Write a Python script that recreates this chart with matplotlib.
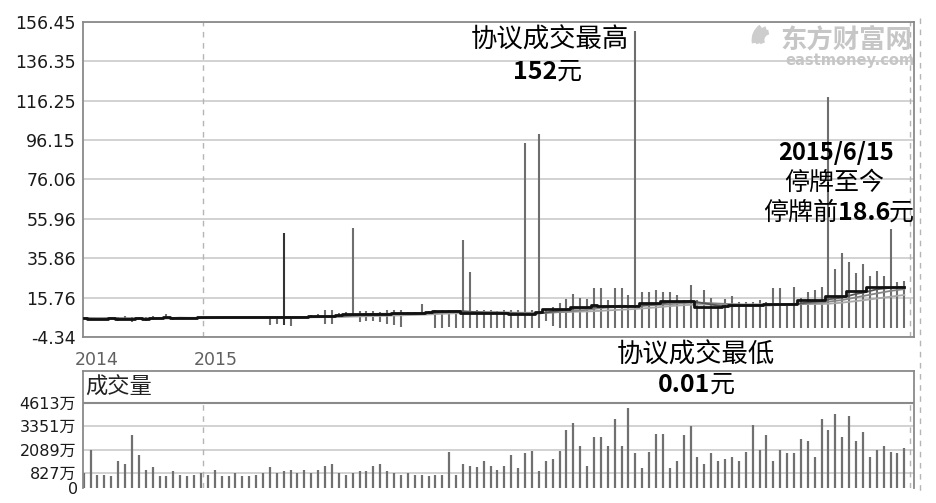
import numpy as np
import pandas as pd
import matplotlib
matplotlib.use("Agg")
import matplotlib.pyplot as plt
from matplotlib.patches import Arc
from matplotlib.lines import Line2D

plt.rcParams['font.family'] = ['DejaVu Sans', 'Noto Sans CJK SC']

# -----------------------------
# Data
# -----------------------------
# closing level (thick black step line), one value per trading period
close = [5.2, 5.0, 5.0, 5.1, 5.4, 4.9, 5.0, 4.8, 5.2, 4.9, 5.6, 5.5, 5.7, 5.3, 5.4, 5.3, 5.5,
         5.7, 5.7, 5.7, 5.7, 5.7, 5.7, 5.7, 5.7, 5.7, 5.7, 5.7, 5.7, 5.7, 5.7,
         5.8, 6.0, 6.3, 6.3, 6.3, 6.3, 6.8, 7.2, 7.5, 7.5, 7.5, 7.5, 7.5, 7.5,
         7.8, 7.8, 7.8, 7.8, 8.0, 8.5, 9.1, 9.1, 9.1, 9.1, 7.8, 7.8, 7.8, 7.8,
         7.8, 7.8, 7.8, 7.5, 7.5, 7.5, 7.5, 8.5, 9.9, 9.9, 9.9, 9.9, 10.8, 10.8,
         11.0, 12.0, 11.5, 11.5, 11.5, 11.5, 11.5, 11.5, 12.9, 12.9, 12.9,
         14.0, 14.0, 14.0, 14.0, 14.0, 11.1, 11.1, 11.1, 11.1, 11.5,
         12.0, 12.0, 12.0, 12.0, 12.0, 12.5, 12.5, 12.5, 12.5, 12.5,
         14.5, 14.5, 14.5, 14.5, 16.6, 16.6, 16.6, 19.3, 19.3, 19.3,
         21.1, 21.1, 21.1, 21.1, 21.1, 21.1]

high = [5.8, 5.4, 5.5, 5.6, 5.9, 5.8, 6.2, 5.7, 6.0, 5.8, 6.6, 6.0, 7.2, 6.0, 6.0, 5.8, 6.0,
        np.nan, np.nan, np.nan, np.nan, np.nan, np.nan, np.nan, np.nan, np.nan, np.nan,
        5.7, 5.7, 48.7, 5.7,
        6.3, 6.6, 7.0, 7.2, 9.4, 9.4, 8.0, 8.3, 51.4, 9.0, 8.8, 8.8, 8.6, 9.6,
        9.6, 9.2, 8.6, 8.6, 12.5, 9.0, 9.4, 9.4, 9.4, 9.4, 45.2, 28.8, 9.4, 9.4,
        9.4, 9.0, 9.4, 9.4, 9.4, 94.7, 9.4, 99.3, 9.9, 11.0, 12.9, 15.0, 17.5, 15.8,
        15.0, 20.5, 20.5, 14.5, 20.5, 20.5, 17.1, 152.0, 18.8, 18.8, 19.65,
        18.8, 18.8, 17.1, 14.5, 22.2, 14.5, 19.65, 15.4, 10.3, 14.9,
        16.6, 13.7, 13.7, 13.7, 14.5, 13.7, 20.5, 20.5, 12.9, 21.3,
        15.4, 18.8, 19.65, 21.3, 118.3, 30.2, 38.7, 34.1, 28.5, 32.9,
        26.8, 29.5, 26.8, 50.8, 23.9, 24.2]

low = [4.6, 4.5, 4.4, 4.6, 4.8, 3.6, 4.2, 3.5, 4.3, 3.8, 4.5, 4.6, 4.8, 4.5, 4.6, 4.6, 4.7,
       np.nan, np.nan, np.nan, np.nan, np.nan, np.nan, np.nan, np.nan, np.nan, np.nan,
       1.8, 2.2, 1.9, 1.2,
       5.5, 5.6, 5.8, 5.2, 2.3, 2.3, 6.0, 6.5, 6.5, 3.5, 3.8, 3.8, 3.5, 2.5,
       1.6, 1.0, 7.0, 7.2, 7.4, 7.8, 0.01, 0.5, 1.0, 0.01, 0.01, 0.01, 0.01, 0.01,
       0.01, 0.01, 0.01, 0.01, 0.01, 0.01, 0.01, 0.01, 4.0, 1.5, 0.01, 0.01, 0.01, 0.01,
       0.01, 0.01] + [0.01] * 45

# volume in 万 shares
volume = [814, 2080, 724, 724, 633, 1483, 1302, 2858, 1791, 995, 1122, 633, 633, 905, 724, 633,
          724, 814, 724, 995, 633, 633, 814, 633, 633, 724, 814, 1122, 814, 905, 995, 814,
          995, 814, 995, 1212, 1302, 814, 724, 814, 905, 905, 1212, 1302, 905, 814, 724,
          814, 724, 724, 633, 724, 724, 1954, 724, 1302, 1212, 1122, 1483, 1212, 995, 1212, 1809,
          1085, 1900, 1990, 905, 1483, 1592, 1990, 3166, 3528, 2261, 1212, 2750, 2750, 2261,
          3745, 2261, 4342, 1881, 1085, 1972, 2949, 2949, 1085, 1483, 2858, 3347, 1682, 1302,
          1881, 1483, 1592,
          1682, 1483, 1972, 3437, 2080, 2858, 1483, 2080, 1881, 1881, 2677, 2569, 1682, 3745,
          3166, 4016, 2750, 3925, 2569, 3039, 1682, 2080, 2261, 1972, 1881, 2171]

price_ticks = [-4.34, 15.76, 35.86, 55.96, 76.06, 96.15, 116.25, 136.35, 156.45]
vol_ticks = [0, 827, 2089, 3351, 4613]
year_labels = ['2014', '2015']
year_pos = [0, 17.3]

n = len(close)
x = np.arange(n)
close_s = pd.Series(close)
ma5 = close_s.rolling(5, min_periods=1).mean()
ma10 = close_s.rolling(10, min_periods=1).mean()
ma20 = close_s.rolling(20, min_periods=1).mean()

W, H = 936, 503
fig = plt.figure(figsize=(W / 100, H / 100), dpi=100)

def fx(px):
    return px / W

def fy(py):
    return 1 - py / H

# ---------------
# Price panel
# ---------------
ax = fig.add_axes([fx(83), fy(337), fx(914 - 83), (337 - 22) / H])
ax.set_xlim(-0.1, 120.4)
ax.set_ylim(-4.34, 156.45)
ax.set_yticks(price_ticks)
ax.set_yticklabels([f"{t:.2f}" for t in price_ticks], fontsize=12.5, color='#1a1a1a')
ax.set_xticks([])
ax.tick_params(axis='y', length=0, pad=5)
ax.grid(axis='y', color='#cfcfcf', lw=1.3)
ax.set_axisbelow(True)
for sp in ax.spines.values():
    sp.set_color('#8a8a8a')
    sp.set_linewidth(1.3)
ax.axvline(year_pos[1], color='#b5b5b5', lw=1, ls=(0, (4, 4)), zorder=1)
ax.axvline(119.8, color='#b5b5b5', lw=1, ls=(0, (4, 4)), zorder=1)

hi = np.array(high)
lo = np.array(low)
ok = ~np.isnan(hi)
wcol = np.where(x[ok] == 29, '#333333', '#6e6e6e')
ax.vlines(x[ok], lo[ok], hi[ok], colors=wcol, lw=1.5, zorder=2)

ax.plot(x, ma20, color='#a8a8a8', lw=1.3, zorder=3)
ax.plot(x, ma10, color='#858585', lw=1.3, zorder=3)
ax.plot(x, ma5, color='#555555', lw=1.3, zorder=3)
ax.plot(x, close, color='#111111', lw=2.0, drawstyle='steps-mid', zorder=4)

for lab, pos in zip(year_labels, year_pos):
    ax.text(pos - 1.3, -0.045, lab, transform=ax.get_xaxis_transform(),
            ha='left', va='top', fontsize=12.5, color='#606060')

# watermark
for r, t1, t2 in [(16, 110, 200), (12, 100, 210), (8, 95, 220)]:
    fig.add_artist(Arc((fx(770), fy(40)), fx(2 * r), 2 * r / H, theta1=t1, theta2=t2,
                       color='#cdcdcd', lw=3.5, transform=fig.transFigure))
fig.text(fx(846), fy(40), '东方财富网', family='Noto Sans CJK SC', fontsize=19,
         weight='bold', color='#c6c6c6', ha='center', va='center')
fig.text(fx(850), fy(60), 'eastmoney.com', fontsize=10.5, weight='bold',
         color='#c6c6c6', ha='center', va='center')

# outer dashed guide at the right edge
fig.add_artist(Line2D([fx(920), fx(920)], [fy(18), fy(495)], color='#b5b5b5', lw=1,
                      ls=(0, (4, 4)), transform=fig.transFigure))

# ---------------
# Volume panel
# ---------------
axv = fig.add_axes([fx(83), fy(488), fx(914 - 83), (488 - 371) / H])
vtop = 4613 * (488 - 371) / (488 - 403)
axv.set_xlim(-0.1, 120.4)
axv.set_ylim(0, vtop)
axv.set_yticks(vol_ticks[1:])
axv.set_yticklabels([f"{v}万" for v in vol_ticks[1:]], fontsize=11.5, color='#1a1a1a')
axv.set_xticks([])
axv.tick_params(axis='y', length=0, pad=5)
axv.annotate(str(vol_ticks[0]), xy=(0, 0), xycoords='axes fraction', xytext=(-5, -2),
             textcoords='offset pixels', ha='right', va='center', fontsize=11.5,
             color='#1a1a1a')
for v in vol_ticks[1:-1]:
    axv.axhline(v, color='#cfcfcf', lw=1.3, zorder=1)
axv.axhline(vol_ticks[-1], color='#8a8a8a', lw=1.5, zorder=1)
for sp in axv.spines.values():
    sp.set_color('#8a8a8a')
    sp.set_linewidth(1.3)
axv.spines['bottom'].set_visible(False)
axv.vlines([year_pos[1], 119.8], 0, vol_ticks[-1], colors='#b5b5b5', lw=1,
           linestyles=(0, (4, 4)), zorder=1)
axv.vlines(x, 0, volume, colors='#707070', lw=1.6, zorder=2)
axv.text(0.003, (vtop + vol_ticks[-1]) / 2, '成交量',
         transform=axv.get_yaxis_transform(), family='Noto Sans CJK SC',
         fontsize=16, color='#222222', ha='left', va='center')

# ---------------
# Annotations
# ---------------
cjk = 'Noto Sans CJK SC'
fig.text(fx(550), fy(40), '协议成交最高', family=cjk, fontsize=19, ha='center', va='center')
fig.text(fx(557), fy(72), '152', family=cjk, fontsize=18, weight='bold', ha='right', va='center')
fig.text(fx(557), fy(72), '元', family=cjk, fontsize=18, ha='left', va='center')

fig.text(fx(836), fy(153), '2015/6/15', family=cjk, fontsize=17, weight='bold',
         ha='center', va='center')
fig.text(fx(834), fy(183), '停牌至今', family=cjk, fontsize=18, ha='center', va='center')
fig.text(fx(838), fy(213), '停牌前', family=cjk, fontsize=18, ha='right', va='center')
fig.text(fx(838), fy(213), '18.6', family=cjk, fontsize=18, weight='bold', ha='left', va='center')
fig.text(fx(889), fy(213), '元', family=cjk, fontsize=18, ha='left', va='center')

fig.text(fx(696), fy(355), '协议成交最低', family=cjk, fontsize=19, ha='center', va='center')
fig.text(fx(710), fy(385), '0.01', family=cjk, fontsize=18, weight='bold', ha='right', va='center')
fig.text(fx(710), fy(385), '元', family=cjk, fontsize=18, ha='left', va='center')

fig.savefig('out.png', dpi=100)
